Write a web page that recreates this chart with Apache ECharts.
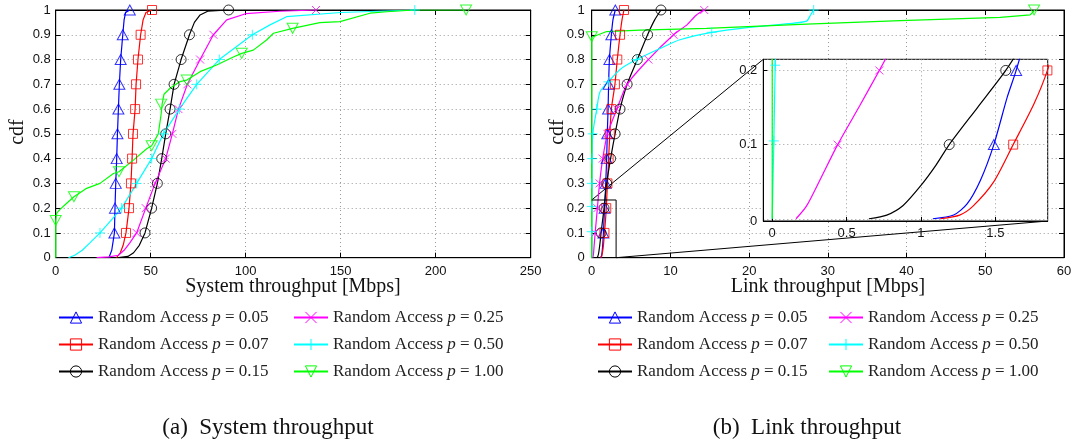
<!DOCTYPE html>
<html><head><meta charset="utf-8">
<script src="https://cdn.jsdelivr.net/npm/echarts@6/dist/echarts.min.js"></script>
<style>html,body{margin:0;padding:0;background:#fff}#c{width:1076px;height:443px}</style>
</head><body><div id="c"></div>
<script>
// ---------- labels ----------
const pLabels = ['0.05', '0.07', '0.15', '0.25', '0.50', '1.00'];

// ---------- (a) System throughput: CDF curves [Mbps, cdf] ----------
const sysCurve005 = [[28,0],[29.5,0.03],[30.3,0.07],[30.9,0.1],[31.2,0.2],[31.6,0.3],[32.1,0.4],[32.5,0.5],[33,0.6],[33.5,0.7],[34.2,0.8],[35.3,0.9],[36,0.96],[36.8,0.99],[39,1]];
const sysCurve007 = [[32,0],[34,0.02],[35.5,0.05],[37,0.1],[38.6,0.2],[39.6,0.3],[40.2,0.4],[40.7,0.5],[41.8,0.6],[42.3,0.7],[43.3,0.8],[44.7,0.9],[46,0.96],[47.5,0.99],[50.7,1]];
const sysCurve015 = [[33,0],[38,0.005],[41,0.02],[44,0.05],[47,0.1],[50.5,0.2],[53.5,0.3],[55.8,0.4],[57.9,0.5],[60.2,0.6],[62.3,0.7],[66,0.8],[70.4,0.9],[73,0.95],[76,0.98],[80,0.995],[91,1]];
const sysCurve025 = [[21.6,0],[28,0.003],[33,0.01],[36,0.03],[39,0.06],[42.6,0.1],[47.4,0.2],[52.3,0.3],[57.9,0.4],[61.4,0.5],[64.6,0.6],[69.3,0.7],[76,0.8],[83,0.9],[90,0.96],[100,0.985],[118,0.995],[137,1]];
const sysCurve050 = [[6.7,0],[10,0.01],[14,0.03],[18,0.06],[23.3,0.1],[29,0.15],[34.7,0.2],[42.6,0.3],[50.5,0.4],[56.7,0.5],[65.1,0.6],[74.2,0.7],[86.1,0.8],[103.5,0.9],[112.8,0.94],[121.5,0.973],[150,0.99],[189,1]];
const sysCurve100 = [[0,0],[0,0.15],[0.5,0.18],[2.3,0.195],[5.8,0.22],[9.6,0.246],[16.3,0.28],[23.3,0.3],[30.4,0.34],[33.3,0.347],[40.9,0.394],[47.9,0.44],[50.5,0.452],[54,0.5],[55.5,0.58],[56,0.62],[57,0.66],[60.2,0.684],[65.4,0.711],[69,0.717],[76,0.751],[84.7,0.778],[93.5,0.81],[97.9,0.825],[104,0.838],[111,0.879],[114.6,0.906],[124.7,0.926],[139,0.949],[149.6,0.953],[165.4,0.987],[174.2,0.993],[189,1],[216,1]];

// markers (a)
const sysMark005 = [[30.9,0.1],[31.2,0.2],[31.6,0.3],[32.1,0.4],[32.5,0.5],[33,0.6],[33.5,0.7],[34.2,0.8],[35.3,0.9],[39,1]];
const sysMark007 = [[37,0.1],[38.6,0.2],[39.6,0.3],[40.2,0.4],[40.7,0.5],[41.8,0.6],[42.3,0.7],[43.3,0.8],[44.7,0.9],[50.7,1]];
const sysMark015 = [[47,0.1],[50.5,0.2],[53.5,0.3],[55.8,0.4],[57.9,0.5],[60.2,0.6],[62.3,0.7],[66,0.8],[70.4,0.9],[91,1]];
const sysMark025 = [[42.6,0.1],[47.4,0.2],[52.3,0.3],[57.9,0.4],[61.4,0.5],[64.6,0.6],[69.3,0.7],[76,0.8],[83,0.9],[137,1]];
const sysMark050 = [[23.3,0.1],[34.7,0.2],[42.6,0.3],[50.5,0.4],[56.7,0.5],[65.1,0.6],[74.2,0.7],[86.1,0.8],[103.5,0.9],[189,1]];
const sysMark100 = [[0,0.15],[9.6,0.246],[33.3,0.347],[50.5,0.452],[55.5,0.62],[69,0.717],[97.9,0.825],[124.7,0.926],[216,1]];

// ---------- (b) Link throughput: CDF curves [Mbps, cdf] ----------
const linkCurve005 = [[1.08,0],[1.22,0.005],[1.31,0.02],[1.4,0.052],[1.49,0.1],[1.58,0.164],[1.64,0.2],[1.78,0.3],[1.9,0.4],[1.98,0.5],[2.08,0.6],[2.15,0.7],[2.25,0.8],[2.5,0.9],[2.7,0.96],[3.0,1]];
const linkCurve007 = [[1.13,0],[1.26,0.005],[1.35,0.017],[1.49,0.05],[1.62,0.1],[1.76,0.155],[1.85,0.2],[2.0,0.3],[2.15,0.4],[2.3,0.5],[2.5,0.6],[2.95,0.7],[3.25,0.8],[3.6,0.9],[3.85,0.96],[4.1,1]];
const linkCurve015 = [[0.65,0],[0.77,0.005],[0.88,0.018],[1.0,0.045],[1.1,0.072],[1.19,0.1],[1.38,0.15],[1.57,0.2],[1.9,0.3],[2.4,0.4],[2.97,0.5],[3.6,0.6],[4.5,0.7],[5.8,0.8],[7.1,0.9],[8.0,0.96],[8.8,1]];
const linkCurve025 = [[0.16,0],[0.23,0.017],[0.32,0.052],[0.44,0.1],[0.59,0.153],[0.72,0.2],[1.0,0.3],[1.4,0.4],[2.0,0.5],[3.2,0.6],[4.5,0.7],[7.2,0.8],[10.4,0.9],[12.1,0.94],[13.3,0.98],[14.3,1]];
const linkCurve050 = [[0,0],[0.005,0.05],[0.011,0.105],[0.02,0.207],[0.03,0.3],[0.05,0.4],[0.13,0.5],[0.64,0.6],[1.06,0.67],[2.12,0.71],[3.6,0.76],[5.7,0.8],[8.7,0.845],[11.2,0.88],[15.25,0.91],[20,0.93],[25,0.945],[27.3,0.955],[27.8,0.98],[28.2,1]];
const linkCurve100 = [[0,0],[0,0.89],[1.9,0.913],[6.1,0.919],[14.6,0.926],[27.3,0.943],[39.2,0.957],[51.9,0.97],[55.7,0.98],[56.3,1]];

// markers (b)
const linkMark005 = [[1.49,0.1],[1.64,0.2],[1.78,0.3],[1.9,0.4],[1.98,0.5],[2.08,0.6],[2.15,0.7],[2.25,0.8],[2.5,0.9],[3.0,1]];
const linkMark007 = [[1.62,0.1],[1.85,0.2],[2.0,0.3],[2.15,0.4],[2.3,0.5],[2.5,0.6],[2.95,0.7],[3.25,0.8],[3.6,0.9],[4.1,1]];
const linkMark015 = [[1.19,0.1],[1.57,0.2],[1.9,0.3],[2.4,0.4],[2.97,0.5],[3.6,0.6],[4.5,0.7],[5.8,0.8],[7.1,0.9],[8.8,1]];
const linkMark025 = [[0.44,0.1],[0.72,0.2],[1.0,0.3],[1.4,0.4],[2.0,0.5],[3.2,0.6],[4.5,0.7],[7.2,0.8],[10.4,0.9],[14.3,1]];
const linkMark050 = [[0.011,0.105],[0.02,0.207],[0.03,0.3],[0.05,0.4],[0.13,0.5],[0.64,0.6],[2.12,0.71],[5.7,0.8],[15.25,0.91],[28.2,1]];
const linkMark100 = [[0,0.892],[56.2,1]];

// zoomed region shown in the inset [Mbps, cdf]
const zoomBoxX = [0, 3.1];
const zoomBoxY = [0, 0.233];
const insetX = [-0.06, 1.852];
const insetY = [-0.003, 0.215];

// ---------- styling ----------
const colors = ['#0000ff', '#ff0000', '#000000', '#ff00ff', '#00ffff', '#00ff00'];
const symbols = ['triangle', 'rect', 'circle', 'path://M0,0L10,10M10,0L0,10', 'path://M5,0L5,10M0,5L10,5', 'path://M0,0L10,0L5,9Z'];
const symSizes = [[11, 10], 9, 10, 8, 10, [11, 10]];
const sysCurves = [sysCurve005, sysCurve007, sysCurve015, sysCurve025, sysCurve050, sysCurve100];
const sysMarks = [sysMark005, sysMark007, sysMark015, sysMark025, sysMark050, sysMark100];
const linkCurves = [linkCurve005, linkCurve007, linkCurve015, linkCurve025, linkCurve050, linkCurve100];
const linkMarks = [linkMark005, linkMark007, linkMark015, linkMark025, linkMark050, linkMark100];

const SANS = 'Liberation Sans, Arial, Helvetica, sans-serif';
const SERIF = 'Liberation Serif, Times New Roman, serif';
const gridLine = { show: true, lineStyle: { color: '#9a9a9a', type: [1, 3], width: 1 } };

const G = [
  { left: 55.7, top: 10, width: 475, height: 247.7 },
  { left: 591.7, top: 10, width: 472.3, height: 247.7 },
  { left: 763.3, top: 59.3, width: 284.4, height: 161.7 }
];

function xAx(gi, min, max, interval, pos, main) {
  return {
    type: 'value', gridIndex: gi, min, max, interval, position: pos,
    axisLine: { show: true, onZero: false, lineStyle: { color: '#000', width: 1 } },
    axisTick: { show: true, inside: true, length: 5, lineStyle: { color: '#000' } },
    axisLabel: { show: main, color: '#111', fontFamily: SANS, fontSize: 13, margin: 7 },
    splitLine: main ? gridLine : { show: false }
  };
}
function yAx(gi, pos, main) {
  return {
    type: 'value', gridIndex: gi, min: 0, max: 1, interval: 0.1, position: pos,
    axisLine: { show: true, onZero: false, lineStyle: { color: '#000', width: 1 } },
    axisTick: { show: true, inside: true, length: 5, lineStyle: { color: '#000' } },
    axisLabel: { show: main, color: '#111', fontFamily: SANS, fontSize: 13, margin: gi === 0 ? 5 : 7,
      formatter: v => (v === 0 || v === 1) ? String(v) : v.toFixed(1) },
    splitLine: main ? gridLine : { show: false }
  };
}

const xAxis = [
  xAx(0, 0, 250, 50, 'bottom', true),
  xAx(0, 0, 250, 50, 'top', false),
  xAx(1, 0, 60, 10, 'bottom', true),
  xAx(1, 0, 60, 10, 'top', false),
  {
    type: 'value', gridIndex: 2, min: insetX[0], max: insetX[1], splitNumber: 4, z: 4,
    axisLine: { show: true, onZero: false, lineStyle: { color: '#000' } },
    axisTick: { show: true, inside: true, length: 4, lineStyle: { color: '#000' } },
    axisLabel: { showMinLabel: false, showMaxLabel: false, color: '#111', fontFamily: SANS, fontSize: 13, margin: 6,
      formatter: v => String(+v.toFixed(2)) },
    splitLine: gridLine
  }
];
const yAxis = [
  yAx(0, 'left', true), yAx(0, 'right', false),
  yAx(1, 'left', true), yAx(1, 'right', false),
  {
    type: 'value', gridIndex: 2, min: insetY[0], max: insetY[1], splitNumber: 2, z: 4,
    axisLine: { show: true, onZero: false, lineStyle: { color: '#000' } },
    axisTick: { show: true, inside: true, length: 4, lineStyle: { color: '#000' } },
    axisLabel: { showMinLabel: true, showMaxLabel: false, color: '#111', fontFamily: SANS, fontSize: 13, margin: 6,
      formatter: v => String(Math.abs(+v.toFixed(2))) },
    splitLine: gridLine
  }
];

const series = [];
function lineS(name, data, i, ai, z, smooth) {
  return { type: 'line', name, data, xAxisIndex: ai.x, yAxisIndex: ai.y, symbol: symbols[i], symbolSize: symSizes[i],
    showSymbol: false, smooth: smooth ? 0.25 : false,
    lineStyle: { color: colors[i], width: 1.2 },
    itemStyle: { color: 'rgba(0,0,0,0)', borderColor: colors[i], borderWidth: 1 },
    z, silent: true, animation: false, clip: true };
}
function markS(name, data, i, ai, z) {
  return { type: 'scatter', name, data, xAxisIndex: ai.x, yAxisIndex: ai.y, symbol: symbols[i], symbolSize: symSizes[i],
    itemStyle: { color: 'rgba(0,0,0,0)', borderColor: colors[i], borderWidth: 1 },
    z, silent: true, animation: false, clip: true };
}
for (let i = 0; i < 6; i++) series.push(lineS('a' + i, sysCurves[i], i, { x: 0, y: 0 }, 2, false));
for (let i = 0; i < 6; i++) series.push(lineS('b' + i, linkCurves[i], i, { x: 2, y: 2 }, 2, i !== 5));
for (let i = 0; i < 6; i++) series.push(lineS('c' + i, linkCurves[i], i, { x: 4, y: 4 }, 5, i !== 5));
for (let i = 0; i < 6; i++) series.push(markS('a' + i, sysMarks[i], i, { x: 0, y: 0 }, 3));
for (let i = 0; i < 6; i++) series.push(markS('b' + i, linkMarks[i], i, { x: 2, y: 2 }, 3));
for (let i = 0; i < 6; i++) series.push(markS('c' + i, linkMarks[i], i, { x: 4, y: 4 }, 6));
// zoom rectangle in (b)
series.push({ type: 'line', data: [[zoomBoxX[0], zoomBoxY[1]], [zoomBoxX[1], zoomBoxY[1]], [zoomBoxX[1], zoomBoxY[0]]],
  xAxisIndex: 2, yAxisIndex: 2, showSymbol: false, symbol: 'none', lineStyle: { color: '#000', width: 1 }, z: 2, silent: true, animation: false });

function legend(prefix, idxs, left) {
  return {
    show: true, orient: 'vertical', left, top: 309, itemWidth: 34, itemHeight: 14, itemGap: 10, padding: 0,
    selectedMode: false, data: idxs.map(i => prefix + i),
    formatter: n => 'Random Access {p|p} = ' + pLabels[+n.slice(1)],
    itemStyle: { color: 'rgba(0,0,0,0)', borderColor: 'inherit', borderWidth: 1 },
    textStyle: { fontFamily: SERIF, fontSize: 17, color: '#222',
      rich: { p: { fontFamily: SERIF, fontStyle: 'italic', fontSize: 17, color: '#222' } } }
  };
}

const chart = echarts.init(document.getElementById('c'), null, { renderer: 'canvas' });
chart.setOption({
  animation: false,
  backgroundColor: '#fff',
  grid: [
    Object.assign({ show: true, borderColor: '#000', borderWidth: 1, containLabel: false, outerBoundsMode: 'none' }, G[0]),
    Object.assign({ show: true, borderColor: '#000', borderWidth: 1, containLabel: false, outerBoundsMode: 'none' }, G[1]),
    Object.assign({ show: true, backgroundColor: '#fff', borderColor: '#000', borderWidth: 1, z: 3, containLabel: false, outerBoundsMode: 'none' }, G[2])
  ],
  xAxis, yAxis, series,
  legend: [legend('a', [0, 1, 2], 58), legend('a', [3, 4, 5], 293), legend('b', [0, 1, 2], 597), legend('b', [3, 4, 5], 828)],
  graphic: [
    { type: 'text', x: 293, y: 287, style: { text: 'System throughput [Mbps]', font: '20px ' + SERIF, fill: '#111', align: 'center', verticalAlign: 'middle' } },
    { type: 'text', x: 828, y: 287, style: { text: 'Link throughput [Mbps]', font: '20px ' + SERIF, fill: '#111', align: 'center', verticalAlign: 'middle' } },
    { type: 'text', x: 18, y: 132, rotation: Math.PI / 2, style: { text: 'cdf', font: '20px ' + SERIF, fill: '#111', align: 'center', verticalAlign: 'middle' } },
    { type: 'text', x: 558, y: 132, rotation: Math.PI / 2, style: { text: 'cdf', font: '20px ' + SERIF, fill: '#111', align: 'center', verticalAlign: 'middle' } },
    { type: 'text', x: 268, y: 428, style: { text: '(a)  System throughput', font: '23px ' + SERIF, fill: '#111', align: 'center', verticalAlign: 'middle' } },
    { type: 'text', x: 807, y: 428, style: { text: '(b)  Link throughput', font: '23px ' + SERIF, fill: '#111', align: 'center', verticalAlign: 'middle' } }
  ]
});

// connector lines from the zoom box in (b) to the inset corners
const p1 = chart.convertToPixel({ gridIndex: 1 }, [zoomBoxX[0], zoomBoxY[1]]);
const q1 = chart.convertToPixel({ gridIndex: 2 }, [insetX[0], insetY[1]]);
const p2 = chart.convertToPixel({ gridIndex: 1 }, [zoomBoxX[1], zoomBoxY[0]]);
const q2 = chart.convertToPixel({ gridIndex: 2 }, [insetX[1], insetY[0]]);
chart.setOption({
  graphic: [
    { type: 'line', id: 'conn1', z: 2, silent: true, shape: { x1: p1[0], y1: p1[1], x2: q1[0], y2: q1[1] }, style: { stroke: '#000', lineWidth: 1 } },
    { type: 'line', id: 'conn2', z: 2, silent: true, shape: { x1: p2[0], y1: p2[1], x2: q2[0], y2: q2[1] }, style: { stroke: '#000', lineWidth: 1 } }
  ]
});
</script>
</body></html>
